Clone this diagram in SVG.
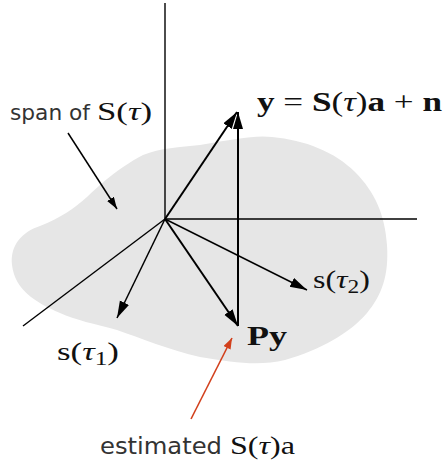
<svg xmlns="http://www.w3.org/2000/svg" width="445" height="463" viewBox="0 0 445 463">
<style>
.axis{stroke:#000;stroke-width:1.4;fill:none}
.vec{stroke:#000;stroke-width:2;fill:none}
.thin{stroke:#000;stroke-width:1.5;fill:none}
.red{stroke:#d2401c;stroke-width:1.6;fill:none}
.sans{font-family:"DejaVu Sans",Verdana,sans-serif;fill:#333}
.math{font-family:"Liberation Serif","DejaVu Serif",serif;fill:#111}
.bf{font-weight:bold}
.it{font-style:italic}
</style>
<defs>
<marker id="ah" markerUnits="userSpaceOnUse" markerWidth="18" markerHeight="12" refX="17" refY="5" orient="auto">
<path d="M0,0 L17,5 L0,10 z" fill="#000"/>
</marker>
<marker id="ahs" markerUnits="userSpaceOnUse" markerWidth="14" markerHeight="10" refX="12" refY="4" orient="auto">
<path d="M0,0 L12,4 L0,8 z" fill="#000"/>
</marker>
<marker id="ahr" markerUnits="userSpaceOnUse" markerWidth="14" markerHeight="10" refX="11" refY="4" orient="auto">
<path d="M0,0 L11,4 L0,8 z" fill="#d2401c"/>
</marker>
</defs>
<g id="span-region">
<path d="M200,145 C235,139 255,135 272,137 C305,140 335,152 355,172 C375,192 385,215 387,245 C389,275 382,295 367,313 C350,333 320,350 285,360 C260,366 235,363 200,357 C170,350 140,338 117,330 C95,324 75,320 60,313 C35,302 15,290 12,265 C10,245 22,232 40,226 C60,218 75,208 87,197 C100,185 115,170 143,155 C160,148 180,147 200,145 Z" fill="#e6e6e6"/>
</g>
<g id="connectors">
<line class="axis" x1="165" y1="3" x2="165" y2="219"/>
<line class="axis" x1="165" y1="219" x2="417" y2="219"/>
<line class="axis" x1="165" y1="219" x2="23" y2="326"/>
<line class="vec" x1="165" y1="219" x2="237" y2="112" marker-end="url(#ah)"/>
<line class="vec" x1="238" y1="326" x2="238" y2="112" marker-end="url(#ah)"/>
<line class="vec" x1="165" y1="219" x2="238" y2="326" marker-end="url(#ah)"/>
<line class="thin" x1="165" y1="219" x2="307" y2="290" marker-end="url(#ah)"/>
<line class="thin" x1="165" y1="219" x2="117" y2="318" marker-end="url(#ah)"/>
<line class="thin" x1="68" y1="133" x2="117" y2="209" marker-end="url(#ahs)"/>
<line class="red" x1="191" y1="419" x2="232" y2="338" marker-end="url(#ahr)"/>
</g>
<g id="label-span">
<text class="sans" x="10" y="120" font-size="22" textLength="80" lengthAdjust="spacingAndGlyphs">span of</text>
<text class="math" x="97" y="120" font-size="25" textLength="55" lengthAdjust="spacingAndGlyphs">S(<tspan class="it">τ</tspan>)</text>
</g>
<g id="label-y">
<text class="math" x="257" y="111" font-size="28" textLength="185" lengthAdjust="spacingAndGlyphs"><tspan class="bf">y</tspan> = <tspan class="bf">S</tspan>(<tspan class="it">τ</tspan>)<tspan class="bf">a</tspan> + <tspan class="bf">n</tspan></text>
</g>
<g id="label-s2">
<text class="math" x="313" y="288" font-size="26" textLength="57" lengthAdjust="spacingAndGlyphs">s(<tspan class="it">τ</tspan><tspan font-size="19" dy="5">2</tspan><tspan dy="-5">)</tspan></text>
</g>
<g id="label-s1">
<text class="math" x="57" y="360" font-size="26" textLength="62" lengthAdjust="spacingAndGlyphs">s(<tspan class="it">τ</tspan><tspan font-size="19" dy="5">1</tspan><tspan dy="-5">)</tspan></text>
</g>
<g id="label-py">
<text class="math bf" x="247" y="345" font-size="28" textLength="40" lengthAdjust="spacingAndGlyphs">Py</text>
</g>
<g id="label-est">
<text class="sans" x="100" y="454" font-size="23" textLength="122" lengthAdjust="spacingAndGlyphs">estimated</text>
<text class="math" x="230" y="454" font-size="25" textLength="65" lengthAdjust="spacingAndGlyphs">S(<tspan class="it">τ</tspan>)a</text>
</g>
</svg>
